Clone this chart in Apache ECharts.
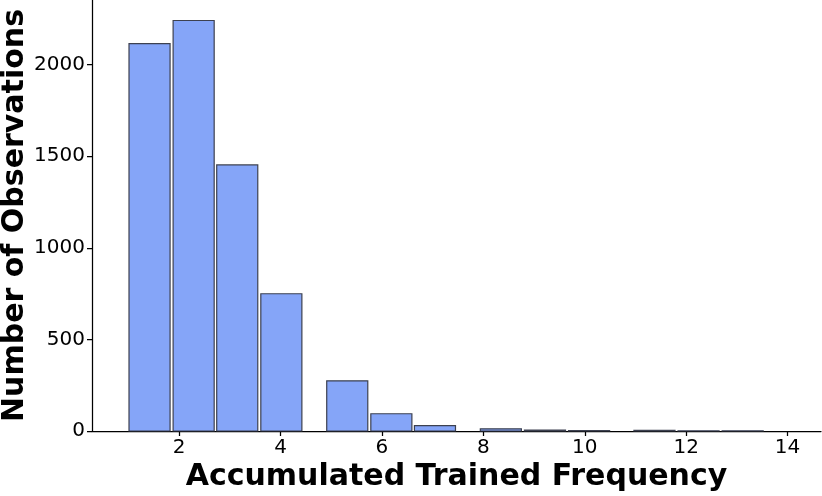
<!DOCTYPE html>
<html>
<head>
<meta charset="utf-8">
<script src="https://cdn.jsdelivr.net/npm/echarts@6/dist/echarts.min.js"></script>
<style>
  html, body { margin: 0; padding: 0; background: #fff; }
  #main { width: 822px; height: 496px; }
</style>
</head>
<body>
<div id="main"></div>
<script>
// bar left / right edges (x data units) and counts
var binLeft = [1.01, 1.88, 2.74, 3.61, 4.91, 5.78, 6.64, 7.94, 8.81, 9.68, 10.97, 11.84, 12.71];
var binRight = [1.82, 2.69, 3.55, 4.42, 5.72, 6.59, 7.45, 8.75, 9.62, 10.49, 11.78, 12.65, 13.52];
var counts = [2114, 2240, 1452, 749, 274, 94, 29, 12, 5, 2, 3, 1, 1];
var xTicks = [2, 4, 6, 8, 10, 12, 14];
var yTicks = [0, 500, 1000, 1500, 2000];

var chartData = [];
for (var i = 0; i < counts.length; i++) {
  chartData.push([binLeft[i], binRight[i], counts[i]]);
}

var myChart = echarts.init(document.getElementById("main"));
var option = {
  animation: false,
  grid: {
    left: 92,
    right: 1,
    top: 0,
    bottom: 65,
    containLabel: false,
    outerBoundsMode: "none",
  },
  xAxis: {
    type: "value",
    min: 0.28,
    max: 14.66,
    name: "Accumulated Trained Frequency",
    nameLocation: "middle",
    nameGap: 31,
    nameMoveOverlap: false,
    nameTextStyle: {
      fontFamily: "DejaVu Sans",
      fontWeight: "bold",
      fontSize: 30,
      color: "#000",
    },
    splitLine: { show: false },
    axisLine: { onZero: false, lineStyle: { color: "#000", width: 1.25 } },
    axisTick: {
      show: true,
      length: 5,
      customValues: xTicks,
      lineStyle: { color: "#000", width: 1.25 },
    },
    axisLabel: {
      customValues: xTicks,
      margin: 7,
      fontFamily: "DejaVu Sans",
      fontSize: 20,
      color: "#000",
      formatter: function (v) { return String(v); },
    },
  },
  yAxis: {
    type: "value",
    min: 0,
    max: 2352,
    name: "Number of Observations",
    nameLocation: "middle",
    nameGap: 62,
    nameMoveOverlap: false,
    nameTextStyle: {
      fontFamily: "DejaVu Sans",
      fontWeight: "bold",
      fontSize: 30,
      color: "#000",
    },
    splitLine: { show: false },
    axisLine: { show: true, lineStyle: { color: "#000", width: 1.25 } },
    axisTick: {
      show: true,
      length: 5,
      customValues: yTicks,
      lineStyle: { color: "#000", width: 1.25 },
    },
    axisLabel: {
      customValues: yTicks,
      margin: 7,
      fontFamily: "DejaVu Sans",
      fontSize: 20,
      color: "#000",
      formatter: function (v) { return String(v); },
    },
  },
  series: [
    {
      type: "custom",
      data: chartData,
      encode: { x: [0, 1], y: 2 },
      renderItem: function (params, api) {
        var p0 = api.coord([api.value(0), 0]);
        var p1 = api.coord([api.value(1), api.value(2)]);
        return {
          type: "rect",
          shape: {
            x: p0[0],
            y: p1[1],
            width: p1[0] - p0[0],
            height: p0[1] - p1[1],
          },
          style: {
            fill: "#85a5f8",
            stroke: "#3d4150",
            lineWidth: 1.2,
          },
        };
      },
    },
  ],
};
myChart.setOption(option);
</script>
</body>
</html>
